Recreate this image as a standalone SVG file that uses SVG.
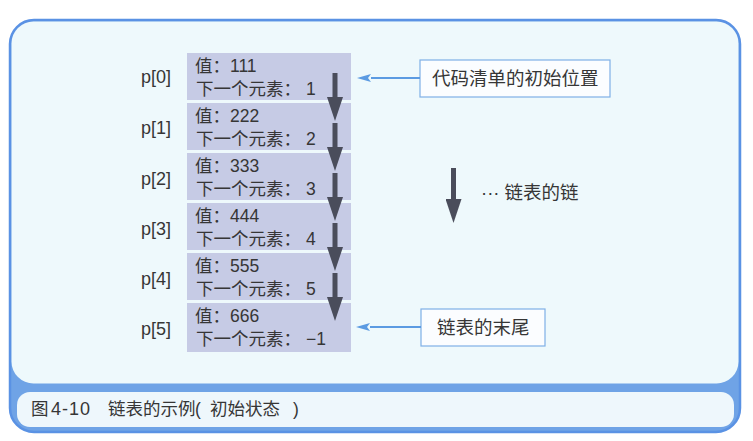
<svg xmlns="http://www.w3.org/2000/svg" width="753" height="441" viewBox="0 0 753 441">
<style>
text{font-family:"Liberation Sans","Noto Sans CJK SC",sans-serif;fill:#363636}
.cell{fill:#c6cbe5}
.v{font-size:17.5px}
.lbl{font-size:18px}
.call{fill:#fbfdff;stroke:#7fb0e6;stroke-width:1.2}
.ct{font-size:18.5px}
.dk{stroke:#4a4d5b;stroke-width:5;fill:none}
.bl{stroke:#5b9be2;stroke-width:2;fill:none}
.cap{font-size:17.5px}
</style>
<defs>
<marker id="mdk" viewBox="0 0 24 16" markerWidth="24" markerHeight="16" refX="0" refY="8" orient="auto" markerUnits="userSpaceOnUse"><path d="M0,0 L24,8 L0,16 z" fill="#4a4d5b"/></marker>
<marker id="mbl" viewBox="0 0 14 8" markerWidth="14" markerHeight="8" refX="0" refY="4" orient="auto" markerUnits="userSpaceOnUse"><path d="M0,0 L14,4 L0,8 L3,4 z" fill="#5b9be2"/></marker>
</defs>
<rect x="0" y="0" width="753" height="441" fill="#ffffff"/>
<g id="frame">
<rect x="10" y="20" width="730" height="412" rx="24" fill="#6fa3e6" stroke="#5a92e4" stroke-width="2.5"/>
<rect x="11.5" y="21.5" width="727" height="362" rx="22" fill="#eef9fc"/>
<rect x="17" y="392" width="717" height="35" rx="13" fill="#eef7fc"/>
<text class="cap" y="415"><tspan x="31">图</tspan><tspan x="51" font-size="18" letter-spacing="1">4-10</tspan><tspan x="108">链表的示例</tspan><tspan x="195">(</tspan><tspan x="210">初始状态</tspan><tspan x="293">)</tspan></text>
</g>
<g id="n0"><text class="lbl" x="141" y="83">p[0]</text><rect class="cell" x="187" y="53" width="164" height="47"/><text class="v" x="195" y="72">值：111</text><text class="v" x="196" y="95">下一个元素：<tspan dx="5">1</tspan></text></g>
<g id="n1"><text class="lbl" x="141" y="134">p[1]</text><rect class="cell" x="187" y="103" width="164" height="47"/><text class="v" x="195" y="122">值：222</text><text class="v" x="196" y="145">下一个元素：<tspan dx="5">2</tspan></text></g>
<g id="n2"><text class="lbl" x="141" y="185">p[2]</text><rect class="cell" x="187" y="153" width="164" height="47"/><text class="v" x="195" y="172">值：333</text><text class="v" x="196" y="195">下一个元素：<tspan dx="5">3</tspan></text></g>
<g id="n3"><text class="lbl" x="141" y="235">p[3]</text><rect class="cell" x="187" y="203" width="164" height="47"/><text class="v" x="195" y="222">值：444</text><text class="v" x="196" y="245">下一个元素：<tspan dx="5">4</tspan></text></g>
<g id="n4"><text class="lbl" x="141" y="285">p[4]</text><rect class="cell" x="187" y="253" width="164" height="47"/><text class="v" x="195" y="272">值：555</text><text class="v" x="196" y="295">下一个元素：<tspan dx="5">5</tspan></text></g>
<g id="n5"><text class="lbl" x="141" y="335">p[5]</text><rect class="cell" x="187" y="303" width="164" height="49"/><text class="v" x="195" y="322">值：666</text><text class="v" x="196" y="345">下一个元素：<tspan dx="5">−1</tspan></text></g>
<g id="start"><rect class="call" x="420" y="60" width="190" height="37"/><text class="ct" x="432" y="85">代码清单的初始位置</text></g>
<g id="end"><rect class="call" x="421" y="309" width="124" height="37"/><text class="ct" x="437" y="334">链表的末尾</text></g>
<g id="legend"><line class="dk" x1="453.5" y1="168" x2="453.5" y2="199" marker-end="url(#mdk)"/><text class="ct" x="481" y="199">··· 链表的链</text></g>
<g id="connectors">
<line class="dk" x1="335" y1="73" x2="335" y2="97" marker-end="url(#mdk)"/>
<line class="dk" x1="335" y1="123" x2="335" y2="147" marker-end="url(#mdk)"/>
<line class="dk" x1="335" y1="173" x2="335" y2="197" marker-end="url(#mdk)"/>
<line class="dk" x1="335" y1="223" x2="335" y2="247" marker-end="url(#mdk)"/>
<line class="dk" x1="335" y1="273" x2="335" y2="297" marker-end="url(#mdk)"/>
<line class="bl" x1="420" y1="78" x2="371" y2="78" marker-end="url(#mbl)"/>
<line class="bl" x1="421" y1="327" x2="370" y2="327" marker-end="url(#mbl)"/>
</g>
</svg>
